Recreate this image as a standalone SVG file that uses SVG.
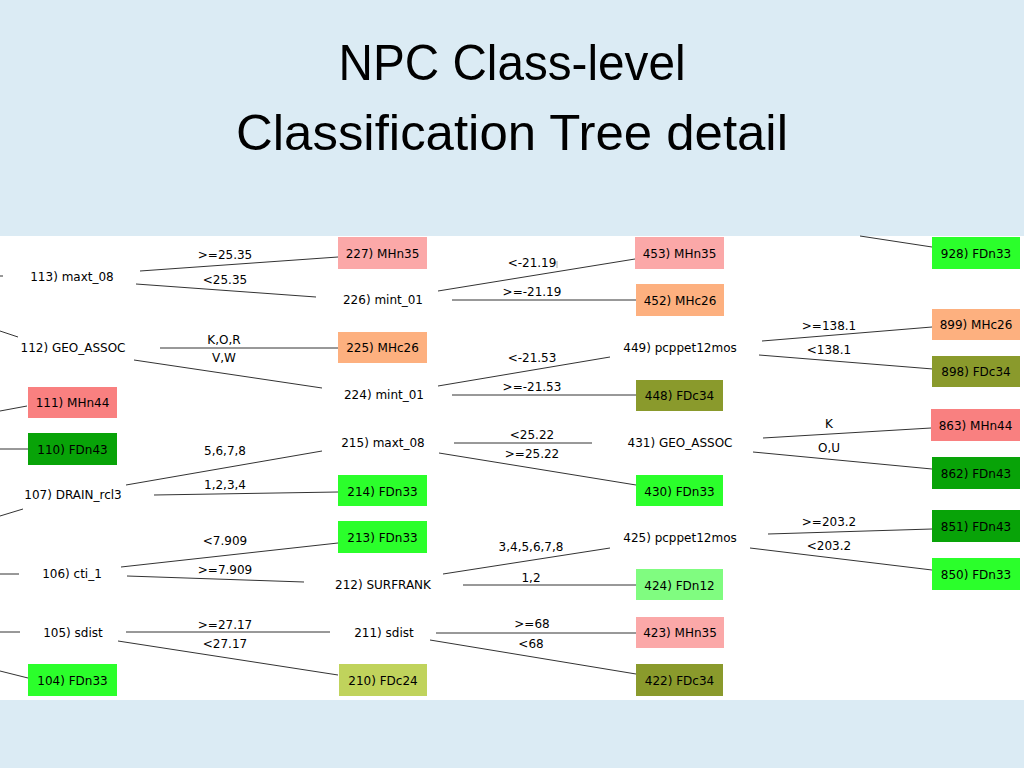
<svg xmlns="http://www.w3.org/2000/svg" width="1024" height="768" viewBox="0 0 1024 768">
<defs>
<style>
.title{font-family:"Liberation Sans",Arial,sans-serif;font-size:50px;fill:#000;text-anchor:middle}
.t{font-family:"DejaVu Sans",Verdana,sans-serif;font-size:12px;fill:#000;text-anchor:middle;dominant-baseline:central;transform:translate(0px,1px)}
.lbl{font-family:"DejaVu Sans",Verdana,sans-serif;font-size:12px;fill:#000;text-anchor:middle;dominant-baseline:central;transform:translate(0px,1px)}
.e{stroke:#333;stroke-width:1;fill:none}
.MHn35{fill:#FBA8A8}
.MHc26{fill:#FDB07F}
.MHn44{fill:#F98080}
.FDn43{fill:#08A308}
.FDn33{fill:#2BFF2B}
.FDc34{fill:#8A9A2C}
.FDc24{fill:#C0D35C}
.FDn12{fill:#80FC80}
</style>
</defs>
<rect x="0" y="0" width="1024" height="768" fill="#DBEBF4"/>
<rect x="0" y="236" width="1024" height="464" fill="#FFFFFF"/>
<g id="title">
<text class="title" x="512" y="80" textLength="347" lengthAdjust="spacingAndGlyphs">NPC Class-level</text>
<text class="title" x="512" y="150" textLength="552" lengthAdjust="spacingAndGlyphs">Classification Tree detail</text>
</g>
<g id="connectors">
<line class="e" x1="0" y1="276" x2="3" y2="276"/>
<line class="e" x1="0" y1="331" x2="18" y2="337"/>
<line class="e" x1="0" y1="411" x2="27" y2="406"/>
<line class="e" x1="0" y1="449" x2="28" y2="449"/>
<line class="e" x1="0" y1="516" x2="23" y2="509"/>
<line class="e" x1="0" y1="574" x2="19" y2="574"/>
<line class="e" x1="0" y1="632" x2="20" y2="632"/>
<line class="e" x1="0" y1="671" x2="28" y2="678"/>
<line class="e" x1="140" y1="271" x2="338" y2="257"/>
<line class="e" x1="136" y1="284" x2="316" y2="297"/>
<line class="e" x1="160" y1="348" x2="338" y2="348"/>
<line class="e" x1="134" y1="360" x2="322" y2="388"/>
<line class="e" x1="126" y1="485" x2="322" y2="451"/>
<line class="e" x1="154" y1="495" x2="338" y2="492"/>
<line class="e" x1="121" y1="567" x2="338" y2="543"/>
<line class="e" x1="127" y1="576" x2="304" y2="582"/>
<line class="e" x1="126" y1="632" x2="330" y2="632"/>
<line class="e" x1="118" y1="641" x2="338" y2="675"/>
<line class="e" x1="438" y1="291" x2="635" y2="259"/>
<line x1="557" y1="261" x2="557" y2="268" stroke="#aaa" stroke-width="1"/>
<line class="e" x1="452" y1="300" x2="636" y2="300"/>
<line class="e" x1="438" y1="386" x2="610" y2="357"/>
<line class="e" x1="452" y1="395" x2="636" y2="395"/>
<line class="e" x1="454" y1="443" x2="592" y2="443"/>
<line class="e" x1="439" y1="453" x2="636" y2="485"/>
<line class="e" x1="443" y1="574" x2="610" y2="548"/>
<line class="e" x1="463" y1="585" x2="636" y2="585"/>
<line class="e" x1="436" y1="633" x2="636" y2="633"/>
<line class="e" x1="430" y1="640" x2="636" y2="674"/>
<line class="e" x1="762" y1="341" x2="932" y2="327"/>
<line class="e" x1="759" y1="355" x2="933" y2="369"/>
<line class="e" x1="763" y1="438" x2="931" y2="428"/>
<line class="e" x1="753" y1="452" x2="932" y2="469"/>
<line class="e" x1="768" y1="534" x2="932" y2="529"/>
<line class="e" x1="750" y1="548" x2="932" y2="570"/>
<line class="e" x1="860" y1="236" x2="932" y2="247"/>
<text class="lbl" x="225" y="254">&gt;=25.35</text>
<text class="lbl" x="225" y="279">&lt;25.35</text>
<text class="lbl" x="224" y="339">K,O,R</text>
<text class="lbl" x="224" y="357">V,W</text>
<text class="lbl" x="225" y="450">5,6,7,8</text>
<text class="lbl" x="225" y="484">1,2,3,4</text>
<text class="lbl" x="225" y="540">&lt;7.909</text>
<text class="lbl" x="225" y="569">&gt;=7.909</text>
<text class="lbl" x="225" y="624">&gt;=27.17</text>
<text class="lbl" x="225" y="643">&lt;27.17</text>
<text class="lbl" x="532" y="262">&lt;-21.19</text>
<text class="lbl" x="532" y="291">&gt;=-21.19</text>
<text class="lbl" x="532" y="357">&lt;-21.53</text>
<text class="lbl" x="532" y="386">&gt;=-21.53</text>
<text class="lbl" x="532" y="434">&lt;25.22</text>
<text class="lbl" x="532" y="453">&gt;=25.22</text>
<text class="lbl" x="531" y="546">3,4,5,6,7,8</text>
<text class="lbl" x="531" y="577">1,2</text>
<text class="lbl" x="532" y="623">&gt;=68</text>
<text class="lbl" x="531" y="643">&lt;68</text>
<text class="lbl" x="829" y="325">&gt;=138.1</text>
<text class="lbl" x="829" y="349">&lt;138.1</text>
<text class="lbl" x="829" y="423">K</text>
<text class="lbl" x="829" y="447">O,U</text>
<text class="lbl" x="829" y="521">&gt;=203.2</text>
<text class="lbl" x="829" y="545">&lt;203.2</text>
</g>
<g id="n113"><text class="t" x="72" y="276">113) maxt_08</text></g>
<g id="n112"><text class="t" x="73" y="347">112) GEO_ASSOC</text></g>
<g id="n111"><rect class="MHn44" x="28" y="387" width="89" height="31"/><text class="t" x="72.5" y="402">111) MHn44</text></g>
<g id="n110"><rect class="FDn43" x="28" y="433" width="89" height="32"/><text class="t" x="72.5" y="449">110) FDn43</text></g>
<g id="n107"><text class="t" x="73" y="494">107) DRAIN_rcl3</text></g>
<g id="n106"><text class="t" x="72" y="573">106) cti_1</text></g>
<g id="n105"><text class="t" x="73" y="632">105) sdist</text></g>
<g id="n104"><rect class="FDn33" x="28" y="664" width="89" height="32"/><text class="t" x="72.5" y="680">104) FDn33</text></g>
<g id="n227"><rect class="MHn35" x="338" y="237" width="89" height="32"/><text class="t" x="382.5" y="253">227) MHn35</text></g>
<g id="n226"><text class="t" x="383" y="299">226) mint_01</text></g>
<g id="n225"><rect class="MHc26" x="338" y="332" width="89" height="31"/><text class="t" x="382.5" y="347">225) MHc26</text></g>
<g id="n224"><text class="t" x="384" y="394">224) mint_01</text></g>
<g id="n215"><text class="t" x="383" y="442">215) maxt_08</text></g>
<g id="n214"><rect class="FDn33" x="338" y="475" width="89" height="31"/><text class="t" x="382.5" y="491">214) FDn33</text></g>
<g id="n213"><rect class="FDn33" x="338" y="521" width="89" height="32"/><text class="t" x="382.5" y="537">213) FDn33</text></g>
<g id="n212"><text class="t" x="383" y="584">212) SURFRANK</text></g>
<g id="n211"><text class="t" x="384" y="632">211) sdist</text></g>
<g id="n210"><rect class="FDc24" x="339" y="664" width="88" height="32"/><text class="t" x="383" y="680">210) FDc24</text></g>
<g id="n453"><rect class="MHn35" x="635" y="237" width="89" height="32"/><text class="t" x="679.5" y="253">453) MHn35</text></g>
<g id="n452"><rect class="MHc26" x="636" y="284" width="88" height="32"/><text class="t" x="680" y="300">452) MHc26</text></g>
<g id="n449"><text class="t" x="680" y="347">449) pcppet12mos</text></g>
<g id="n448"><rect class="FDc34" x="636" y="380" width="87" height="31"/><text class="t" x="679.5" y="395">448) FDc34</text></g>
<g id="n431"><text class="t" x="680" y="442">431) GEO_ASSOC</text></g>
<g id="n430"><rect class="FDn33" x="636" y="475" width="87" height="31"/><text class="t" x="679.5" y="491">430) FDn33</text></g>
<g id="n425"><text class="t" x="680" y="537">425) pcppet12mos</text></g>
<g id="n424"><rect class="FDn12" x="636" y="569" width="87" height="31"/><text class="t" x="679.5" y="585">424) FDn12</text></g>
<g id="n423"><rect class="MHn35" x="636" y="617" width="88" height="31"/><text class="t" x="680" y="632">423) MHn35</text></g>
<g id="n422"><rect class="FDc34" x="636" y="664" width="87" height="32"/><text class="t" x="679.5" y="680">422) FDc34</text></g>
<g id="n928"><rect class="FDn33" x="932" y="237" width="88" height="32"/><text class="t" x="976" y="253">928) FDn33</text></g>
<g id="n899"><rect class="MHc26" x="932" y="309" width="88" height="31"/><text class="t" x="976" y="324">899) MHc26</text></g>
<g id="n898"><rect class="FDc34" x="932" y="356" width="88" height="31"/><text class="t" x="976" y="371">898) FDc34</text></g>
<g id="n863"><rect class="MHn44" x="931" y="409" width="89" height="32"/><text class="t" x="975.5" y="425">863) MHn44</text></g>
<g id="n862"><rect class="FDn43" x="932" y="457" width="88" height="32"/><text class="t" x="976" y="473">862) FDn43</text></g>
<g id="n851"><rect class="FDn43" x="932" y="510" width="88" height="32"/><text class="t" x="976" y="526">851) FDn43</text></g>
<g id="n850"><rect class="FDn33" x="932" y="558" width="88" height="32"/><text class="t" x="976" y="574">850) FDn33</text></g>
</svg>
